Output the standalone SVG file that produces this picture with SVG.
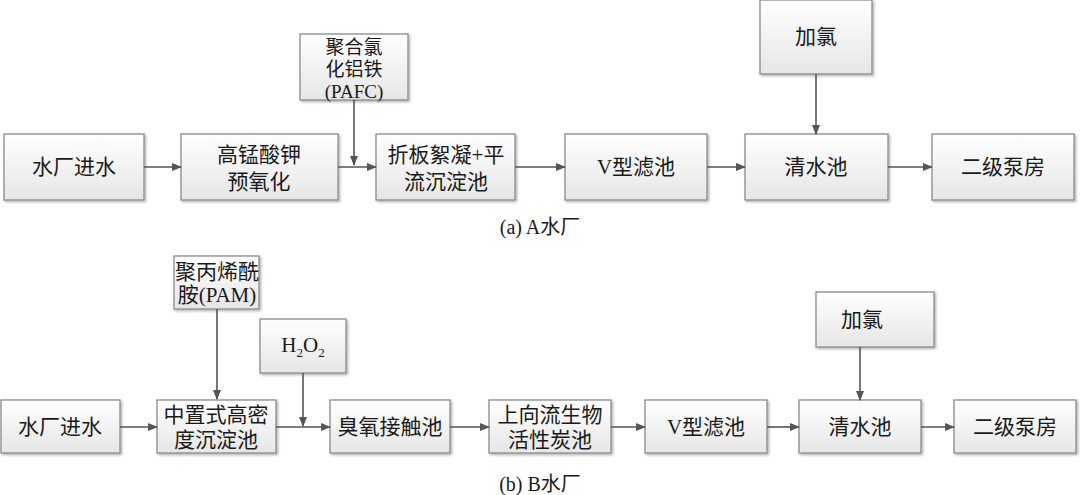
<svg xmlns="http://www.w3.org/2000/svg" width="1080" height="495" viewBox="0 0 1080 495">
<style>
.b{fill:url(#g);stroke:#8a8a8a;stroke-width:1.3;filter:url(#s)}
.t{font-family:"Liberation Serif","Noto Sans CJK SC",serif;font-size:21px;fill:#1a1a1a;text-anchor:middle}
.c{stroke:#555;stroke-width:1.6;fill:none;marker-end:url(#a)}
</style>
<defs>
<linearGradient id="g" x1="0" y1="0" x2="0" y2="1"><stop offset="0" stop-color="#ffffff"/><stop offset="1" stop-color="#e6e6e6"/></linearGradient>
<filter id="s" x="-10%" y="-10%" width="120%" height="130%"><feDropShadow dx="1.5" dy="1.5" stdDeviation="1" flood-color="#000" flood-opacity="0.3"/></filter>
<marker id="a" markerWidth="10" markerHeight="8" refX="9" refY="4" orient="auto" markerUnits="userSpaceOnUse"><path d="M0,0L10,4L0,8z" fill="#555"/></marker>
</defs>
<g id="a1"><rect class="b" x="4" y="134" width="140" height="66"/><text class="t" x="74" y="174">水厂进水</text></g>
<g id="a2"><rect class="b" x="181" y="134" width="157" height="66"/><text class="t" x="259" y="162">高锰酸钾</text><text class="t" x="259" y="189">预氧化</text></g>
<g id="a3"><rect class="b" x="300" y="34" width="108" height="66"/><text class="t" x="354" y="54" style="font-size:19px">聚合氯</text><text class="t" x="354" y="76" style="font-size:19px">化铝铁</text><text class="t" x="354" y="98" style="font-size:19px">(PAFC)</text></g>
<g id="a4"><rect class="b" x="376" y="134" width="139" height="66"/><text class="t" x="446" y="162">折板絮凝+平</text><text class="t" x="446" y="189">流沉淀池</text></g>
<g id="a5"><rect class="b" x="565" y="134" width="142" height="66"/><text class="t" x="636" y="174">V型滤池</text></g>
<g id="a6"><rect class="b" x="745" y="134" width="143" height="66"/><text class="t" x="816" y="174">清水池</text></g>
<g id="a7"><rect class="b" x="932" y="134" width="142" height="66"/><text class="t" x="1003" y="174">二级泵房</text></g>
<g id="a8"><rect class="b" x="760" y="0" width="112" height="74"/><text class="t" x="816" y="44">加氯</text></g>
<text class="t" x="540" y="234" style="font-size:20px">(a) A水厂</text>
<g id="b1"><rect class="b" x="1" y="400" width="119" height="53"/><text class="t" x="60" y="434">水厂进水</text></g>
<g id="b2"><rect class="b" x="157" y="400" width="119" height="53"/><text class="t" x="216" y="422">中置式高密</text><text class="t" x="216" y="447">度沉淀池</text></g>
<g id="b3"><rect class="b" x="174" y="256" width="85" height="53"/><text class="t" x="217" y="279">聚丙烯酰</text><text class="t" x="217" y="302">胺(PAM)</text></g>
<g id="b4"><rect class="b" x="260" y="319" width="86" height="54"/><text class="t" x="303" y="352">H<tspan dy="5" font-size="13">2</tspan><tspan dy="-5">O</tspan><tspan dy="5" font-size="13">2</tspan></text></g>
<g id="b5"><rect class="b" x="330" y="400" width="120" height="53"/><text class="t" x="390" y="434">臭氧接触池</text></g>
<g id="b6"><rect class="b" x="489" y="400" width="122" height="53"/><text class="t" x="550" y="422">上向流生物</text><text class="t" x="550" y="447">活性炭池</text></g>
<g id="b7"><rect class="b" x="645" y="400" width="122" height="53"/><text class="t" x="706" y="434">V型滤池</text></g>
<g id="b8"><rect class="b" x="799" y="400" width="122" height="53"/><text class="t" x="860" y="434">清水池</text></g>
<g id="b9"><rect class="b" x="954" y="400" width="122" height="53"/><text class="t" x="1015" y="434">二级泵房</text></g>
<g id="b10"><rect class="b" x="816" y="292" width="118" height="55"/><text class="t" x="862" y="327">加氯</text></g>
<text class="t" x="540" y="491" style="font-size:20px">(b) B水厂</text>
<g id="connectors">
<path class="c" d="M144,167H181"/>
<path class="c" d="M338,167H376"/>
<path class="c" d="M354,100V165"/>
<path class="c" d="M515,167H565"/>
<path class="c" d="M707,167H745"/>
<path class="c" d="M888,167H932"/>
<path class="c" d="M816,74V134"/>
<path class="c" d="M120,427H157"/>
<path class="c" d="M217,309V399"/>
<path class="c" d="M276,427H330"/>
<path class="c" d="M303,373V426"/>
<path class="c" d="M450,427H489"/>
<path class="c" d="M611,427H645"/>
<path class="c" d="M767,427H799"/>
<path class="c" d="M921,427H954"/>
<path class="c" d="M860,347V400"/>
</g>
</svg>
